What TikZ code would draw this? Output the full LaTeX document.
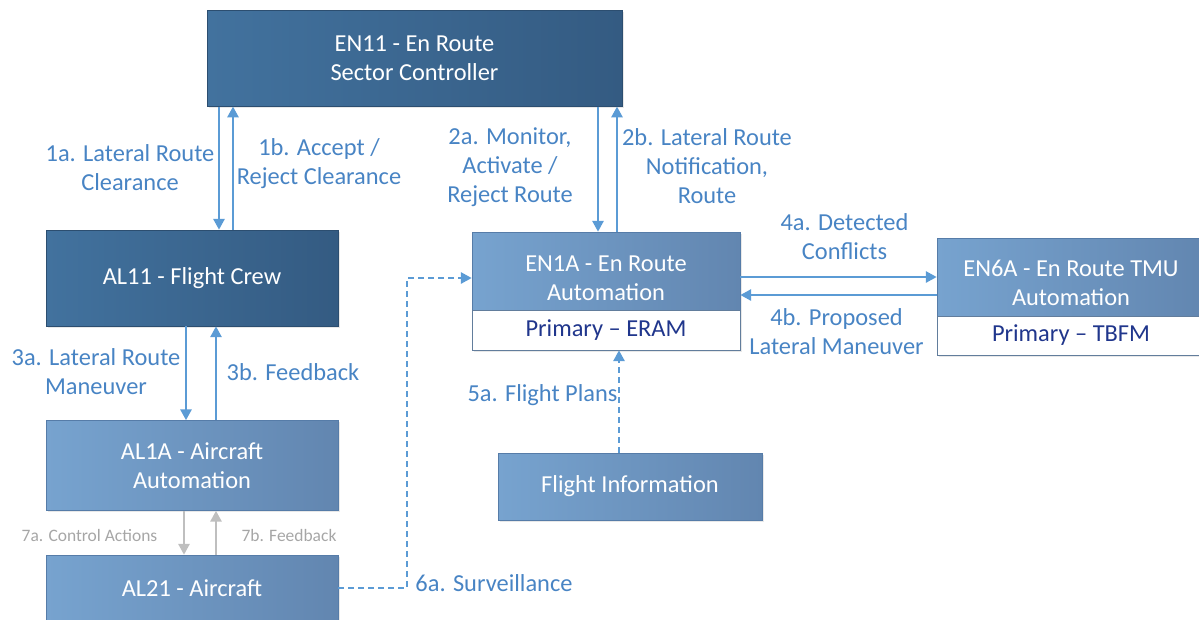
\documentclass[tikz,border=0pt]{standalone}
\usepackage{fontspec}
\setmainfont{Carlito}
\usetikzlibrary{arrows.meta,shadows}

\definecolor{darkboxL}{RGB}{66,114,158}
\definecolor{darkboxR}{RGB}{52,91,130}
\definecolor{darkedge}{RGB}{44,78,112}
\definecolor{midboxL}{RGB}{119,163,207}
\definecolor{midboxR}{RGB}{98,134,176}
\definecolor{midedge}{RGB}{86,124,168}
\definecolor{flowblue}{RGB}{91,155,213}
\definecolor{labelblue}{RGB}{72,132,196}
\definecolor{primarynavy}{RGB}{32,54,140}
\definecolor{softgray}{RGB}{191,191,191}
\definecolor{softtext}{RGB}{166,166,166}

\tikzset{
  box/.style={rectangle, text=white, align=center, inner sep=0pt,
    font=\fontsize{18.3}{21.75}\selectfont,
    drop shadow={opacity=0.18,shadow xshift=1.2pt,shadow yshift=-1.2pt}},
  darkbox/.style={box, draw=darkedge, line width=0.6pt, left color=darkboxL, right color=darkboxR},
  midbox/.style={box, draw=midedge, line width=0.6pt, left color=midboxL, right color=midboxR},
  subbox/.style={box, fill=white, draw=midedge!70!gray, line width=0.6pt, text=primarynavy},
  boxtext/.style={text=white, align=center, inner sep=0pt, font=\fontsize{18.3}{21.75}\selectfont},
  flow/.style={draw=flowblue, line width=1.1pt, -{Triangle[width=8.5pt,length=8pt]}},
  softflow/.style={draw=softgray, line width=1.1pt, -{Triangle[width=8.5pt,length=8pt]}},
  dashflow/.style={flow, dash pattern=on 4.5pt off 3pt},
  lbl/.style={text=labelblue, align=center, inner sep=0pt, font=\fontsize{18.3}{21.75}\selectfont},
  smalllbl/.style={text=softtext, inner sep=0pt, font=\fontsize{13.1}{15}\selectfont},
}

\begin{document}
\begin{tikzpicture}[x=0.75pt,y=-0.75pt]

    \useasboundingbox (0,0) rectangle (1199,619);

    % controllers and crew
    \node[darkbox, minimum width=311.25pt, minimum height=71.6pt] (en11) at (414.5,58.5) {EN11 - En Route\\Sector Controller};
    \node[darkbox, minimum width=219pt, minimum height=72pt] (al11) at (192,278) {AL11 - Flight Crew};

    % aircraft side
    \node[midbox, minimum width=219pt, minimum height=67.5pt] (al1a) at (192,465.5) {AL1A - Aircraft\\Automation};
    \node[midbox, minimum width=219pt, minimum height=49.5pt] (al21) at (192,588) {AL21 - Aircraft};

    % automation
    \node[midbox, minimum width=201pt, minimum height=58.5pt] (en1a) at (606,271) {};
    \node[boxtext] (en1atxt) at (606,278) {EN1A - En Route\\Automation};
    \node[subbox, minimum width=201pt, minimum height=30pt] (en1asub) at (606,330) {Primary – ERAM};

    \node[midbox, minimum width=201pt, minimum height=58.5pt] (en6a) at (1071,277) {};
    \node[boxtext] (en6atxt) at (1071,282.5) {EN6A - En Route TMU\\Automation};
    \node[subbox, minimum width=201pt, minimum height=29.25pt] (en6asub) at (1071,335.5) {Primary – TBFM};

    \node[midbox, minimum width=198pt, minimum height=50.25pt] (flightinfo) at (630,486.5) {Flight Information};

    % control loops
    \draw[flow] (en11.south -| 219,0) -- (al11.north -| 219,0);
    \draw[flow] (al11.north -| 233,0) -- (en11.south -| 233,0);
    \draw[flow] (en11.south -| 598,0) -- (en1a.north -| 598,0);
    \draw[flow] (en1a.north -| 617,0) -- (en11.south -| 617,0);
    \draw[flow] (al11.south -| 186,0) -- (al1a.north -| 186,0);
    \draw[flow] (al1a.north -| 216,0) -- (al11.south -| 216,0);
    \draw[softflow] (al1a.south -| 184,0) -- (al21.north -| 184,0);
    \draw[softflow] (al21.north -| 216,0) -- (al1a.south -| 216,0);
    \draw[flow] (en6a.west -| en1a.east) -- (en6a.west);
    \draw[flow] (en6a.west |- 0,295) -- (en1a.east |- 0,295);

    % dashed inputs
    \draw[dashflow] (flightinfo.north -| 619,0) -- (en1asub.south -| 619,0);
    \draw[dashflow] (al21.east) -| (407,278) -- (en1a.west |- 0,278);

    % labels
    \node[lbl] (lbl1a) at (130,167.5) {1a. Lateral Route\\Clearance};
    \node[lbl] (lbl1b) at (319,163.5) {1b. Accept /\\Reject Clearance};
    \node[lbl] (lbl2a) at (510,167) {2a. Monitor,\\Activate /\\Reject Route};
    \node[lbl] (lbl2b) at (707,166) {2b. Lateral Route\\Notification,\\Route};
    \node[lbl] (lbl3a) at (96,372) {3a. Lateral Route\\Maneuver};
    \node[lbl] (lbl3b) at (293,372) {3b. Feedback};
    \node[lbl] (lbl4a) at (844.5,236.5) {4a. Detected\\Conflicts};
    \node[lbl] (lbl4b) at (836.5,332) {4b. Proposed\\Lateral Maneuver};
    \node[lbl] (lbl5a) at (542.5,395) {5a. Flight Plans};
    \node[lbl] (lbl6a) at (494,583) {6a. Surveillance};
    \node[smalllbl] (lbl7a) at (89.5,535) {7a. Control Actions};
    \node[smalllbl] (lbl7b) at (289,535) {7b. Feedback};

\end{tikzpicture}
\end{document}
